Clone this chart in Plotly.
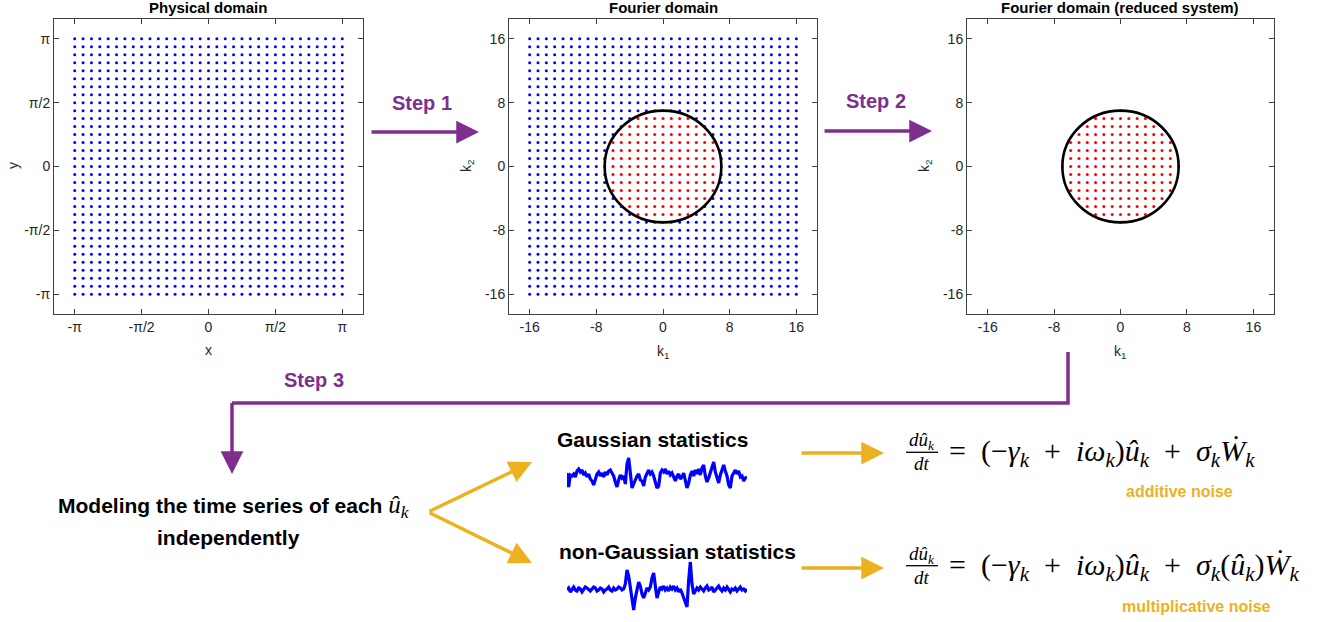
import plotly.graph_objects as go

W, H = 1322, 622

# ---------------- data ----------------
wavenumbers = [-16, -15, -14, -13, -12, -11, -10, -9, -8, -7, -6, -5, -4, -3, -2, -1, 0,
               1, 2, 3, 4, 5, 6, 7, 8, 9, 10, 11, 12, 13, 14, 15, 16]
cutoff_radius = 7
PI = 3.141592653589793
physical_ticks = [-PI, -PI / 2, 0, PI / 2, PI]
physical_tick_labels = ["-π", "-π/2", "0", "π/2", "π"]
fourier_ticks = [-16, -8, 0, 8, 16]
fourier_tick_labels = ["-16", "-8", "0", "8", "16"]

gaussian_series = [5, -9, 3, 2, 4, 1, 7, 9, 6, 8, 3, 5, 1, 4, -1, -3, -7, 0, 4, 6, 2,
                   5, 1, 6, 3, 7, 8, 5, 2, -4, -9, -2, 3, 0, 2, -6, 14, 20, 6, -10, -6,
                   -1, 2, 4, -2, -3, -8, 1, 5, 8, 4, 6, 2, -5, -10, -8, 5, 8, 6, 9, 4, 7,
                   3, 5, 0, -3, 2, 4, -1, 1, 5, -4, -10, -5, 3, 7, 2, 8, 4, 9, 3, 10, 13,
                   2, -4, 0, 5, 11, 16, 6, 0, -5, 3, 9, 13, 7, 2, -7, -10, 2, 6, 8, 4, 7,
                   1, 2, -3, 0, 1]
nongaussian_series = [0, 2, -2, 1, 3, 0, -1, 2, 1, -2, 0, 3, 2, 0, -1, 1, 3, 2, -1, 0, 2,
                      1, -2, 0, 1, 3, 0, -1, 2, 0, 1, 3, 2, 0, 1, 6, 20, 14, 2, -12, -20,
                      -8, 2, 8, 4, -4, -8, -2, 2, 0, 3, 12, 17, 4, -8, -2, 3, 1, 4, 0, 2,
                      -1, 3, 1, 4, 0, 2, -2, 1, -3, -8, -12, -17, 10, 28, 6, -4, -1, 2, 0,
                      3, 1, -1, 2, 4, 0, 1, 3, -2, 0, 2, 4, 1, -1, 2, 0, 3, 1, -2, 1, 0, 2,
                      -1, 1, 3, 0, 1, -1, 1]

# ---------------- helpers (layout only) ----------------
def px(x):
    return x / W


def py(y):
    return 1 - y / H


PURPLE = "#7E2F8E"
YELLOW = "#EDB120"
AXC = "#404040"
TXT = "#262626"

phys_x, phys_y = [], []
out_x, out_y, in_x, in_y = [], [], [], []
for a in wavenumbers:
    for b in wavenumbers:
        phys_x.append(a * PI / 16)
        phys_y.append(b * PI / 16)
        if a * a + b * b <= cutoff_radius ** 2:
            in_x.append(a)
            in_y.append(b)
        else:
            out_x.append(a)
            out_y.append(b)

fig = go.Figure()
mk = 3.0
fig.add_trace(go.Scatter(x=phys_x, y=phys_y, mode="markers", xaxis="x", yaxis="y",
                         marker=dict(color="#0000FF", size=mk), hoverinfo="skip"))
fig.add_trace(go.Scatter(x=out_x, y=out_y, mode="markers", xaxis="x2", yaxis="y2",
                         marker=dict(color="#0000FF", size=mk), hoverinfo="skip"))
fig.add_trace(go.Scatter(x=in_x, y=in_y, mode="markers", xaxis="x2", yaxis="y2",
                         marker=dict(color="#FF0000", size=mk), hoverinfo="skip"))
fig.add_trace(go.Scatter(x=in_x, y=in_y, mode="markers", xaxis="x3", yaxis="y3",
                         marker=dict(color="#FF0000", size=mk), hoverinfo="skip"))
fig.add_trace(go.Scatter(x=list(range(len(gaussian_series))), y=gaussian_series,
                         mode="lines", xaxis="x4", yaxis="y4",
                         line=dict(color="#0000FF", width=3.2), hoverinfo="skip"))
fig.add_trace(go.Scatter(x=list(range(len(nongaussian_series))), y=nongaussian_series,
                         mode="lines", xaxis="x5", yaxis="y5",
                         line=dict(color="#0000FF", width=3.2), hoverinfo="skip"))

pad = 1.155
def axis_style(dom, rng, tickvals, ticktext, anchor):
    return dict(domain=dom, range=rng, tickvals=tickvals, ticktext=ticktext,
                ticks="inside", ticklen=5, tickcolor=AXC, mirror="allticks",
                showline=True, linecolor=AXC, linewidth=1, showgrid=False,
                zeroline=False, anchor=anchor,
                tickfont=dict(family="Liberation Sans, Arial", size=14, color=TXT))

ydom = [py(314), py(19)]
layout = dict(
    width=W, height=H, margin=dict(l=0, r=0, t=0, b=0),
    paper_bgcolor="white", plot_bgcolor="white", showlegend=False,
    xaxis=axis_style([px(54), px(363)], [-pad * PI, pad * PI], physical_ticks, physical_tick_labels, "y"),
    yaxis=axis_style(ydom, [-pad * PI, pad * PI], physical_ticks, physical_tick_labels, "x"),
    xaxis2=axis_style([px(509), px(817)], [-pad * 16, pad * 16], fourier_ticks, fourier_tick_labels, "y2"),
    yaxis2=axis_style(ydom, [-pad * 16, pad * 16], fourier_ticks, fourier_tick_labels, "x2"),
    xaxis3=axis_style([px(967), px(1274)], [-pad * 16, pad * 16], fourier_ticks, fourier_tick_labels, "y3"),
    yaxis3=axis_style(ydom, [-pad * 16, pad * 16], fourier_ticks, fourier_tick_labels, "x3"),
    xaxis4=dict(domain=[px(567), px(747)], range=[0, len(gaussian_series) - 1], visible=False, anchor="y4"),
    yaxis4=dict(domain=[py(495), py(455)], range=[-17, 23], visible=False, anchor="x4"),
    xaxis5=dict(domain=[px(567), px(747)], range=[0, len(nongaussian_series) - 1], visible=False, anchor="y5"),
    yaxis5=dict(domain=[py(615), py(555)], range=[-25, 35], visible=False, anchor="x5"),
)
fig.update_layout(**layout)

shapes = []
for ax in ["2", "3"]:
    shapes.append(dict(type="circle", xref="x" + ax, yref="y" + ax,
                       x0=-cutoff_radius, x1=cutoff_radius, y0=-cutoff_radius, y1=cutoff_radius,
                       line=dict(color="black", width=2.6), layer="above"))
# Step 3 bent connector
shapes.append(dict(type="path", xref="paper", yref="paper",
                   path=f"M {px(1068)} {py(352)} L {px(1068)} {py(403)} L {px(232)} {py(403)}",
                   line=dict(color=PURPLE, width=3.5)))
# fraction bars
for yb in [452.3, 565.7]:
    shapes.append(dict(type="line", xref="paper", yref="paper",
                       x0=px(906), x1=px(938), y0=py(yb), y1=py(yb),
                       line=dict(color="black", width=1.3)))
fig.update_layout(shapes=shapes)

ann = []
def text(x, y, s, size, color="black", bold=False, family="Liberation Sans, Arial",
         textangle=0, xanchor="center"):
    if bold:
        s = "<b>" + s + "</b>"
    ann.append(dict(x=px(x), y=py(y), xref="paper", yref="paper", text=s, showarrow=False,
                    font=dict(size=size, color=color, family=family), textangle=textangle,
                    xanchor=xanchor, yanchor="middle"))

def arrow(x0, y0, x1, y1, color, width, size=1.3):
    ann.append(dict(x=px(x1), y=py(y1), xref="paper", yref="paper", ax=x0 - x1, ay=y0 - y1,
                    axref="pixel", ayref="pixel", text="", showarrow=True, arrowhead=2,
                    arrowsize=size, arrowwidth=width, arrowcolor=color))

# panel titles
text(208, 8, "Physical domain", 15, bold=True)
text(663, 8, "Fourier domain", 15, bold=True)
text(1120, 8, "Fourier domain (reduced system)", 15, bold=True)
# axis labels
text(208, 350, "x", 14, TXT)
text(13, 166, "y", 14, TXT, textangle=-90)
text(663, 352, "k<sub>1</sub>", 14, TXT)
text(467, 166, "k<sub>2</sub>", 14, TXT, textangle=-90)
text(1120, 352, "k<sub>1</sub>", 14, TXT)
text(925, 166, "k<sub>2</sub>", 14, TXT, textangle=-90)

# steps
text(422, 103, "Step 1", 20, PURPLE, bold=True)
arrow(370, 132, 479, 132, PURPLE, 3.5)
text(876, 101, "Step 2", 20, PURPLE, bold=True)
arrow(823, 131, 932, 131, PURPLE, 3.5)
text(314, 380, "Step 3", 20, PURPLE, bold=True)
arrow(232, 401.5, 232, 474, PURPLE, 3.5)

# modeling text
uk = ("<span style='font-family:Liberation Serif;font-weight:normal;font-size:25px'>"
      "<i>û</i><sub><i>k</i></sub></span>")
text(234, 506, "Modeling the time series of each " + uk, 21, bold=True)
text(228, 537, "independently", 21, bold=True)

# yellow arrows
arrow(428, 512, 532, 462, YELLOW, 3.5)
arrow(428, 512, 532, 563, YELLOW, 3.5)
arrow(800, 453, 884, 453, YELLOW, 3.5)
arrow(800, 568, 884, 568, YELLOW, 3.5)

text(652, 439, "Gaussian statistics", 21, bold=True)
text(677, 551, "non-Gaussian statistics", 21, bold=True)

# equations
SERIF = "Liberation Serif, DejaVu Serif, serif"
num = "<i>d</i><i>û</i><sub><i>k</i></sub>"
den = "<i>dt</i>"
K = "<sub><i>k</i></sub>"
S = "\u2002"
eq1 = ("=" + S + "(−<i>γ</i>" + K + S + "+" + S + "<i>iω</i>" + K + ")<i>û</i>" + K +
       S + "+" + S + "<i>σ</i>" + K + "<i>Ẇ</i>" + K)
eq2 = ("=" + S + "(−<i>γ</i>" + K + S + "+" + S + "<i>iω</i>" + K + ")<i>û</i>" + K +
       S + "+" + S + "<i>σ</i>" + K + "(<i>û</i>" + K + ")<i>Ẇ</i>" + K)
for yc, eq in [(453, eq1), (567, eq2)]:
    text(922, yc - 12, num, 19, family=SERIF)
    text(922, yc + 10, den, 19, family=SERIF)
    text(947, yc, eq, 30, family=SERIF, xanchor="left")

text(1179, 491, "additive noise", 16, YELLOW, bold=True)
text(1196, 606, "multiplicative noise", 16, YELLOW, bold=True)

fig.update_layout(annotations=ann)
fig.write_html("out.html")
